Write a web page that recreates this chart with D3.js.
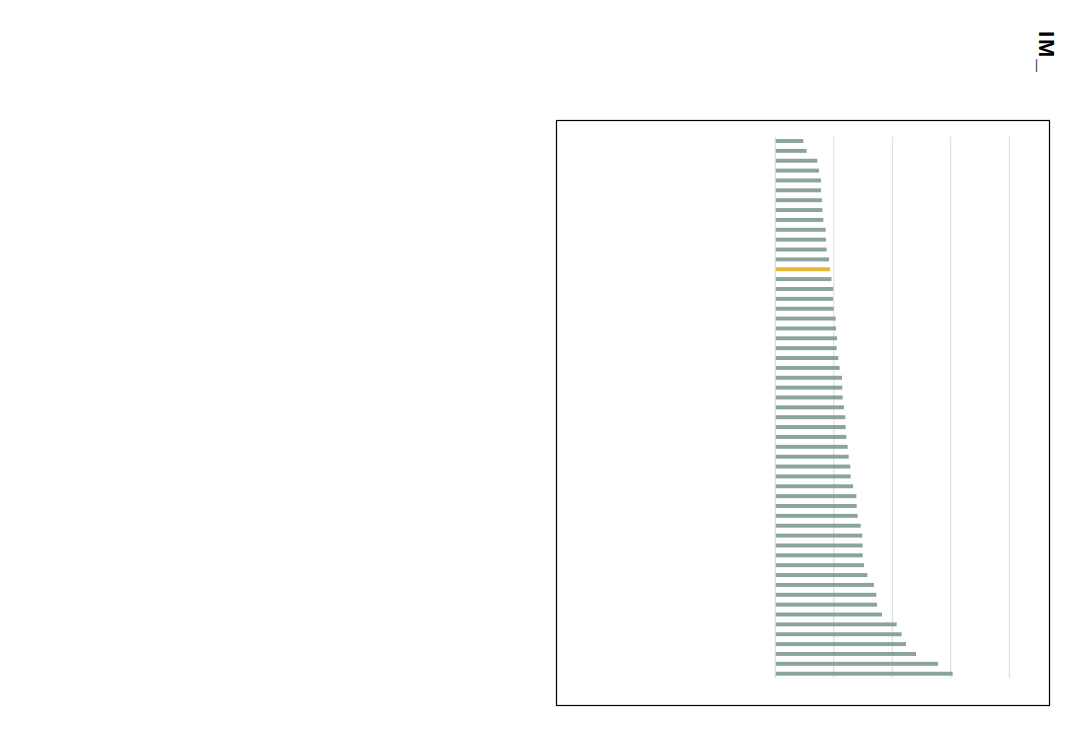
<!DOCTYPE html>
<html>
<head>
<meta charset="utf-8">
<script src="https://cdn.jsdelivr.net/npm/d3@7/dist/d3.min.js"></script>
<style>
  html, body { margin: 0; padding: 0; background: #fff; }
  svg { display: block; }
</style>
</head>
<body>
<svg id="chart" width="1083" height="750"></svg>
<script>
// ---- data (categories are unlabeled in the source) ----
const categories = d3.range(1, 56).map(i => "C" + String(i).padStart(2, "0"));
const values = [
  4.79, 5.36, 7.18, 7.47, 7.81, 7.81, 7.98, 8.04, 8.21, 8.61,
  8.67, 8.78, 9.18, 9.35, 9.60, 9.91, 9.86, 9.97, 10.32, 10.38,
  10.55, 10.49, 10.77, 11.00, 11.40, 11.45, 11.52, 11.74, 11.97, 12.03,
  12.14, 12.37, 12.54, 12.82, 12.88, 13.28, 13.85, 13.91, 14.08, 14.60,
  14.87, 14.94, 14.94, 15.16, 15.73, 16.87, 17.26, 17.38, 18.24, 20.75,
  21.60, 22.34, 24.05, 27.81, 30.32
];
const highlighted = ["C14"];
const xTicks = [0, 10, 20, 30, 40];
const logoText = "IM_";

// ---- drawing ----
const svg = d3.select("#chart");

// frame
svg.append("rect")
  .attr("x", 556.5).attr("y", 120.5)
  .attr("width", 493).attr("height", 585)
  .attr("fill", "none").attr("stroke", "#000").attr("stroke-width", 1.2);

const x = d3.scaleLinear().domain([0, 40]).range([775.3, 1009.3]);
const y = d3.scaleBand().domain(categories)
  .range([136.07, 678.63]).paddingInner(0.6).paddingOuter(0.3);

// gridlines
svg.append("g").selectAll("line").data(xTicks).join("line")
  .attr("x1", d => x(d)).attr("x2", d => x(d))
  .attr("y1", 136.7).attr("y2", 678)
  .attr("stroke", "#d9d9d9").attr("stroke-width", 1);

// bars
const data = categories.map((c, i) => ({ c, v: values[i] }));
svg.append("g").selectAll("rect").data(data).join("rect")
  .attr("x", x(0) + 0.5)
  .attr("y", d => y(d.c))
  .attr("width", d => x(d.v) - x(0) - 0.5)
  .attr("height", y.bandwidth())
  .attr("fill", d => highlighted.includes(d.c) ? "#e8b834" : "#8ba49b");

// logo
svg.append("text")
  .attr("transform", "translate(1038.5,31) rotate(90)")
  .attr("font-family", "Liberation Sans, Arial, sans-serif")
  .attr("font-weight", "bold")
  .attr("font-size", 22)
  .attr("letter-spacing", 2)
  .attr("fill", "#000")
  .text(logoText);
</script>
</body>
</html>
